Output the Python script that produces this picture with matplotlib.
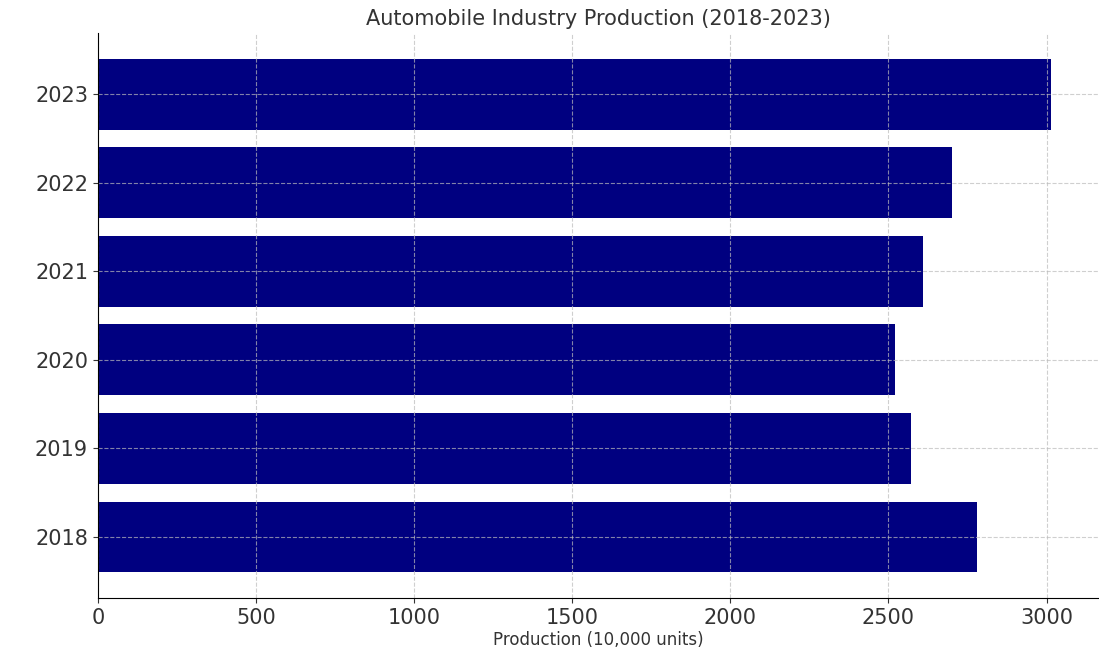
import matplotlib
matplotlib.use("Agg")
import matplotlib.pyplot as plt

# 연도별 자동차 생산량 (단위: 만 대)
years = ["2018", "2019", "2020", "2021", "2022", "2023"]
production = [2780, 2570, 2520, 2610, 2700, 3015]

fig = plt.figure(figsize=(10.99, 6.48), dpi=100)
ax = fig.add_axes([0.089, 0.077, 0.911, 0.872])

ax.barh(years, production, color="navy")
ax.set_title("Automobile Industry Production (2018-2023)", fontsize=15, color="#333333", pad=6)
ax.set_xlabel("Production (10,000 units)", fontsize=12, color="#333333", labelpad=2)
ax.tick_params(axis="both", labelsize=15, colors="#333333")
ax.grid(True, linestyle="--", color="#bbbbbb", alpha=0.7)
ax.spines["top"].set_visible(False)
ax.spines["right"].set_visible(False)

fig.savefig("out.png", dpi=100)
